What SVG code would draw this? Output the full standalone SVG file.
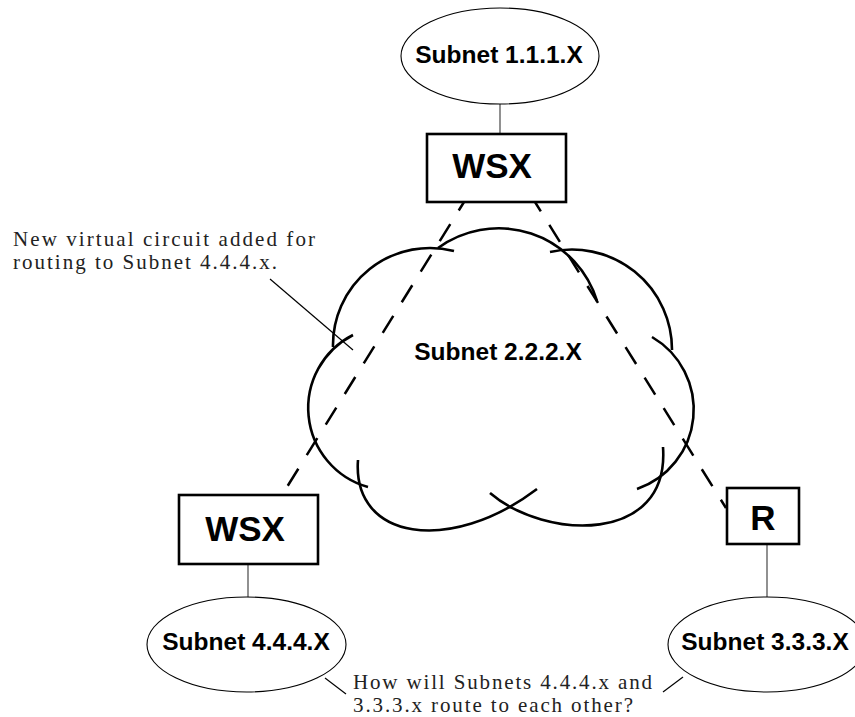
<svg xmlns="http://www.w3.org/2000/svg" width="855" height="717" viewBox="0 0 855 717">
<style>
.bg{fill:#ffffff}
.ell{fill:#ffffff;stroke:#000000;stroke-width:1.1}
.box{fill:#ffffff;stroke:#000000;stroke-width:2.6}
.cloud{fill:none;stroke:#000000;stroke-width:2.6;stroke-linecap:butt}
.link{fill:none;stroke:#555555;stroke-width:1.3}
.dash{fill:none;stroke:#000000;stroke-width:2.5;stroke-dasharray:20 16}
.lead{fill:none;stroke:#000000;stroke-width:1.2}
.lbl{font-family:"Liberation Sans",Arial,Helvetica,sans-serif;font-weight:bold;font-size:24.5px;fill:#000000;text-anchor:middle}
.big{font-family:"Liberation Sans",Arial,Helvetica,sans-serif;font-weight:bold;font-size:35px;fill:#000000;text-anchor:middle}
.note{font-family:"Liberation Serif","Times New Roman",serif;font-size:21px;fill:#222222}
</style>
<rect class="bg" x="0" y="0" width="855" height="717"/>

<g id="connectors">
  <line class="link" x1="500" y1="104" x2="500" y2="134"/>
  <line class="link" x1="248" y1="564" x2="248" y2="597"/>
  <line class="link" x1="767" y1="544" x2="767" y2="597"/>
  <line class="dash" x1="464" y1="202" x2="282" y2="495" stroke-dashoffset="10"/>
  <line class="dash" x1="535" y1="202" x2="726" y2="508" stroke-dashoffset="9"/>
  <line class="lead" x1="270" y1="279" x2="353" y2="350"/>
  <line class="lead" x1="325" y1="678" x2="346" y2="694"/>
  <line class="lead" x1="663" y1="692" x2="683" y2="677"/>
</g>

<g id="cloud">
  <path class="cloud" d="M454,251 A97,97 0 0 0 333,347"/>
  <path class="cloud" d="M438,248 A103,103 0 0 1 597,301"/>
  <path class="cloud" d="M550,252 A100,100 0 0 1 672,350"/>
  <path class="cloud" d="M353,335 A82,82 0 0 0 368,487"/>
  <path class="cloud" d="M652,337 A84,84 0 0 1 637,489"/>
  <path class="cloud" d="M358,460 C352,540 450,555 537,489"/>
  <path class="cloud" d="M490,493 C545,540 670,545 663,447"/>
  <text class="lbl" x="498" y="360">Subnet 2.2.2.X</text>
</g>

<g id="subnet1">
  <ellipse class="ell" cx="500" cy="56" rx="99" ry="48"/>
  <text class="lbl" x="499" y="63">Subnet 1.1.1.X</text>
</g>

<g id="wsx-top">
  <rect class="box" x="427" y="134" width="139" height="68"/>
  <text class="big" x="492" y="178">WSX</text>
</g>

<g id="wsx-bottom">
  <rect class="box" x="179" y="495" width="139" height="69"/>
  <text class="big" x="245" y="541">WSX</text>
</g>

<g id="router">
  <rect class="box" x="727" y="488" width="72" height="56"/>
  <text class="big" x="763" y="530">R</text>
</g>

<g id="subnet4">
  <ellipse class="ell" cx="246.5" cy="644.5" rx="99.5" ry="47.5"/>
  <text class="lbl" x="246" y="650">Subnet 4.4.4.X</text>
</g>

<g id="subnet3">
  <ellipse class="ell" cx="767" cy="644.5" rx="99" ry="47.5"/>
  <text class="lbl" x="765" y="650">Subnet 3.3.3.X</text>
</g>

<g id="note-top">
  <text class="note" x="13" y="246" textLength="302">New virtual circuit added for</text>
  <text class="note" x="13" y="269" textLength="264">routing to Subnet 4.4.4.x.</text>
</g>

<g id="note-bottom">
  <text class="note" x="353" y="689" textLength="299">How will Subnets 4.4.4.x and</text>
  <text class="note" x="353" y="712" textLength="280">3.3.3.x route to each other?</text>
</g>
</svg>
